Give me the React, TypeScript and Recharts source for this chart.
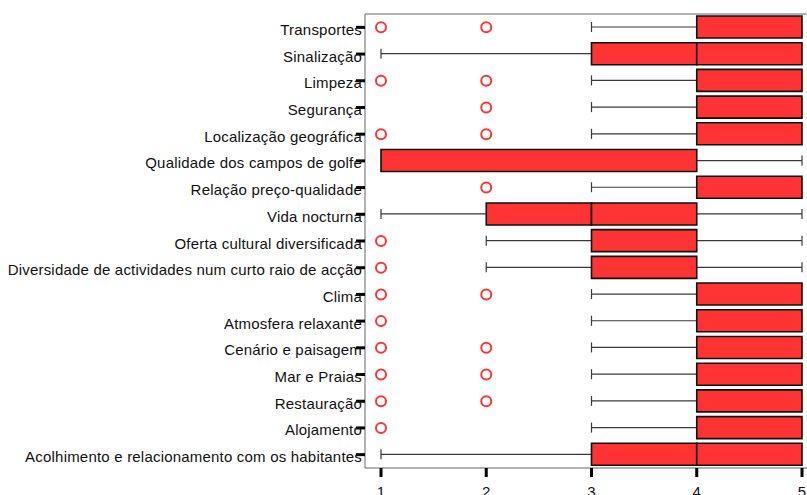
import React from 'react';
import { ComposedChart, Bar, Line, XAxis, YAxis } from 'recharts';

// Rating items (1 = worst, 5 = best), top to bottom
const categories = [
  'Transportes',
  'Sinalização',
  'Limpeza',
  'Segurança',
  'Localização geográfica',
  'Qualidade dos campos de golfe',
  'Relação preço-qualidade',
  'Vida nocturna',
  'Oferta cultural diversificada',
  'Diversidade de actividades num curto raio de acção',
  'Clima',
  'Atmosfera relaxante',
  'Cenário e paisagem',
  'Mar e Praias',
  'Restauração',
  'Alojamento',
  'Acolhimento e relacionamento com os habitantes',
];

// Box-plot statistics per item
const whiskerLow = [3, 1, 3, 3, 3, 1, 3, 1, 2, 2, 3, 3, 3, 3, 3, 3, 1];
const quartile1 = [4, 3, 4, 4, 4, 1, 4, 2, 3, 3, 4, 4, 4, 4, 4, 4, 3];
const medians = [4, 4, 4, 4, 4, 4, 4, 3, 3, 3, 4, 4, 4, 4, 4, 4, 4];
const quartile3 = [5, 5, 5, 5, 5, 4, 5, 4, 4, 4, 5, 5, 5, 5, 5, 5, 5];
const whiskerHigh = [5, 5, 5, 5, 5, 5, 5, 5, 5, 5, 5, 5, 5, 5, 5, 5, 5];

// Outlying answers (null = none at that score)
const outliersAt1 = [1, null, 1, null, 1, null, null, null, 1, 1, 1, 1, 1, 1, 1, 1, null];
const outliersAt2 = [2, null, 2, 2, 2, null, 2, null, null, null, 2, null, 2, 2, 2, null, null];

const scoreTicks = [1, 2, 3, 4, 5];

const rows = categories.map((name, i) => ({
  name,
  lowWhisker: [whiskerLow[i], quartile1[i]],
  lowerBox: [quartile1[i], medians[i]],
  upperBox: [medians[i], quartile3[i]],
  highWhisker: [quartile3[i], whiskerHigh[i]],
  out1: outliersAt1[i],
  out2: outliersAt2[i],
}));

const FONT = '"Liberation Sans", Arial, sans-serif';
const BOX_FILL = '#FF3333';
const WHISKER = '#3a3a3a';

const LowWhisker = (p: any) => {
  const { x, y, width, height } = p;
  if (!width || width <= 0) return <g />;
  const cy = y + height / 2;
  return (
    <g>
      <line x1={x} x2={x + width} y1={cy} y2={cy} stroke={WHISKER} strokeWidth={1.2} />
      <line x1={x} x2={x} y1={cy - 5} y2={cy + 5} stroke={WHISKER} strokeWidth={1.2} />
    </g>
  );
};

const HighWhisker = (p: any) => {
  const { x, y, width, height } = p;
  if (!width || width <= 0) return <g />;
  const cy = y + height / 2;
  const xe = x + width;
  return (
    <g>
      <line x1={x} x2={xe} y1={cy} y2={cy} stroke={WHISKER} strokeWidth={1.2} />
      <line x1={xe} x2={xe} y1={cy - 5} y2={cy + 5} stroke={WHISKER} strokeWidth={1.2} />
    </g>
  );
};

const OutlierDot = (p: any) => {
  const { cx, cy, value } = p;
  if (value == null || cx == null || Number.isNaN(cx)) return <g key={p.key} />;
  return (
    <circle key={p.key} cx={cx} cy={cy} r={5} fill="none" stroke="#FF3333" strokeWidth={2} />
  );
};

const CategoryTick = (p: any) => {
  const { x, y, payload } = p;
  return (
    <text
      x={x + 6}
      y={y}
      dy={7.5}
      textAnchor="end"
      fontSize={15}
      letterSpacing={0.2}
      fontFamily={FONT}
      fill="#111"
    >
      {payload.value}
    </text>
  );
};

export default function App() {
  return (
    <div style={{ position: 'absolute', left: 0, top: 0, width: 807, height: 495, background: '#fff' }}>
      <ComposedChart
        width={807}
        height={495}
        data={rows}
        layout="vertical"
        margin={{ top: 13, right: 0, bottom: 0, left: 0 }}
        barSize={22}
        barGap={-22}
        barCategoryGap={0}
      >
        <XAxis
          xAxisId="top"
          orientation="top"
          type="number"
          domain={[1, 5]}
          height={1}
          tick={false}
          tickLine={false}
          axisLine={{ stroke: '#666' }}
        />
        <XAxis
          type="number"
          domain={[1, 5]}
          ticks={scoreTicks}
          interval={0}
          padding={{ left: 16, right: 5 }}
          height={27}
          tickSize={9}
          tickMargin={9}
          axisLine={{ stroke: '#666' }}
          tickLine={{ stroke: '#000', strokeWidth: 3 }}
          tick={{ fontSize: 15, fill: '#111', fontFamily: FONT }}
        />
        <YAxis
          type="category"
          dataKey="name"
          width={365}
          interval={0}
          tickSize={9}
          tickMargin={0}
          axisLine={{ stroke: '#666' }}
          tickLine={{ stroke: '#000', strokeWidth: 3 }}
          tick={<CategoryTick />}
        />
        <Bar dataKey="lowWhisker" shape={<LowWhisker />} isAnimationActive={false} />
        <Bar dataKey="highWhisker" shape={<HighWhisker />} isAnimationActive={false} />
        <Bar dataKey="lowerBox" fill={BOX_FILL} stroke="#111" strokeWidth={1.6} isAnimationActive={false} />
        <Bar dataKey="upperBox" fill={BOX_FILL} stroke="#111" strokeWidth={1.6} isAnimationActive={false} />
        <Line dataKey="out1" stroke="none" dot={OutlierDot} activeDot={false} legendType="none" isAnimationActive={false} />
        <Line dataKey="out2" stroke="none" dot={OutlierDot} activeDot={false} legendType="none" isAnimationActive={false} />
      </ComposedChart>
    </div>
  );
}
